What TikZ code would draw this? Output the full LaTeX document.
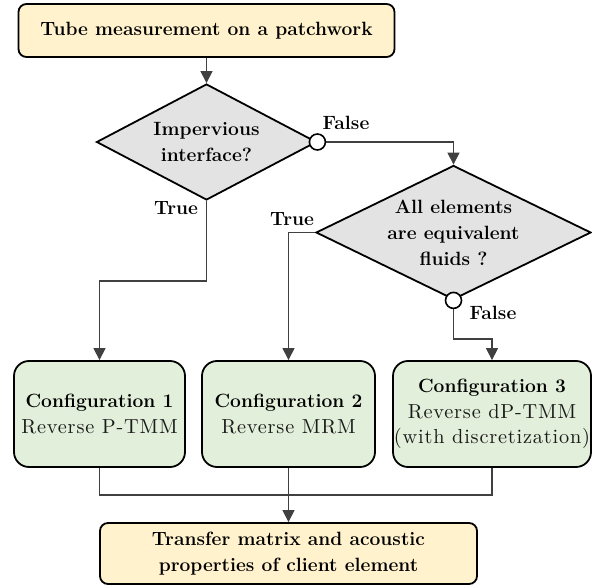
\documentclass[tikz,border=0pt]{standalone}
\usepackage{fontspec}
\newfontfamily\rgfont{lmroman10-regular.otf}[LetterSpace=4]
\usetikzlibrary{shapes.geometric,arrows.meta}
\definecolor{yel}{HTML}{FFF2CC}
\definecolor{grn}{HTML}{E2EFDA}
\definecolor{gry}{HTML}{E3E3E3}
\definecolor{lin}{HTML}{404040}
\definecolor{rgtxt}{HTML}{1A1A1A}
\newcommand{\bfsz}{\fontsize{19.2}{26}\selectfont\bfseries}
\newcommand{\rgsz}{\rgfont\fontsize{20.3}{26}\selectfont\color{rgtxt}}
\tikzset{
  endbox/.style={draw=black, line width=1.8pt, fill=yel, rounded corners=8pt, inner sep=0pt, align=center, font=\bfsz},
  cfgbox/.style={draw=black, line width=1.8pt, fill=grn, rounded corners=15pt, inner sep=0pt, align=center, font=\fontsize{19.2}{25.5}\selectfont},
  decide/.style={diamond, draw=black, line width=1.8pt, fill=gry, inner sep=0pt},
  dtext/.style={align=center, font=\bfsz, inner sep=0pt},
  port/.style={circle, draw=black, line width=1.6pt, fill=white, minimum size=16pt, inner sep=0pt},
  conn/.style={draw=lin, line width=1.2pt},
  arr/.style={conn, -{Triangle[length=12pt,width=12pt]}},
  lbl/.style={font=\bfsz, inner sep=0pt}
}
\begin{document}
\begin{tikzpicture}[x=1pt,y=-1pt]
\useasboundingbox (0,0) rectangle (592,586);
\node[endbox, minimum width=376pt, minimum height=53pt] (top) at (206.5,30.5) {Tube measurement on a patchwork};
\node[decide, minimum width=220pt, minimum height=116pt] (d1) at (206.5,142) {};
\node[dtext] at (d1) {Impervious\\interface?};
\node[decide, minimum width=275pt, minimum height=134pt] (d2) at (453.5,232.5) {};
\node[dtext] at (d2) {All elements\\are equivalent\\fluids ?};
\node[cfgbox, minimum width=171pt, minimum height=106pt] (b1) at (99.5,414) {{\bfsz Configuration 1}\\{\rgsz Reverse\ P-TMM}};
\node[cfgbox, minimum width=173pt, minimum height=106pt] (b2) at (288.5,414) {{\bfsz Configuration 2}\\{\rgsz Reverse\ MRM}};
\node[cfgbox, minimum width=198pt, minimum height=106pt] (b3) at (492,414) {{\bfsz Configuration 3}\\{\rgsz Reverse dP-TMM}\\{\rgsz (with discretization)}};
\node[endbox, minimum width=377pt, minimum height=61pt] (bot) at (288.5,553.5) {Transfer matrix and acoustic\\properties of client element};
\coordinate (j1) at (0,281);
\coordinate (j2) at (0,339);
\coordinate (j3) at (0,495);
% connectors
\draw[arr] (top.south) -- (d1.north);
\draw[arr] (d1.east) -| (d2.north);
\draw[arr] (d1.south) -- (d1.south |- j1) -| (b1.north);
\draw[arr] (d2.west) -| (b2.north);
\draw[arr] (d2.south) -- (d2.south |- j2) -| (b3.north);
\draw[conn] (b1.south) -- (b1.south |- j3) -| (b3.south);
\draw[arr] (b2.south) -- (bot.north);
\node[port] (p1) at (d1.east) {};
\node[port] (p2) at (d2.south) {};
\node[lbl] (f1) at (346,123) {False};
\node[lbl] (t1) at (176,208) {True};
\node[lbl] (t2) at (292,219) {True};
\node[lbl] (f2) at (493,313) {False};
\end{tikzpicture}
\end{document}
